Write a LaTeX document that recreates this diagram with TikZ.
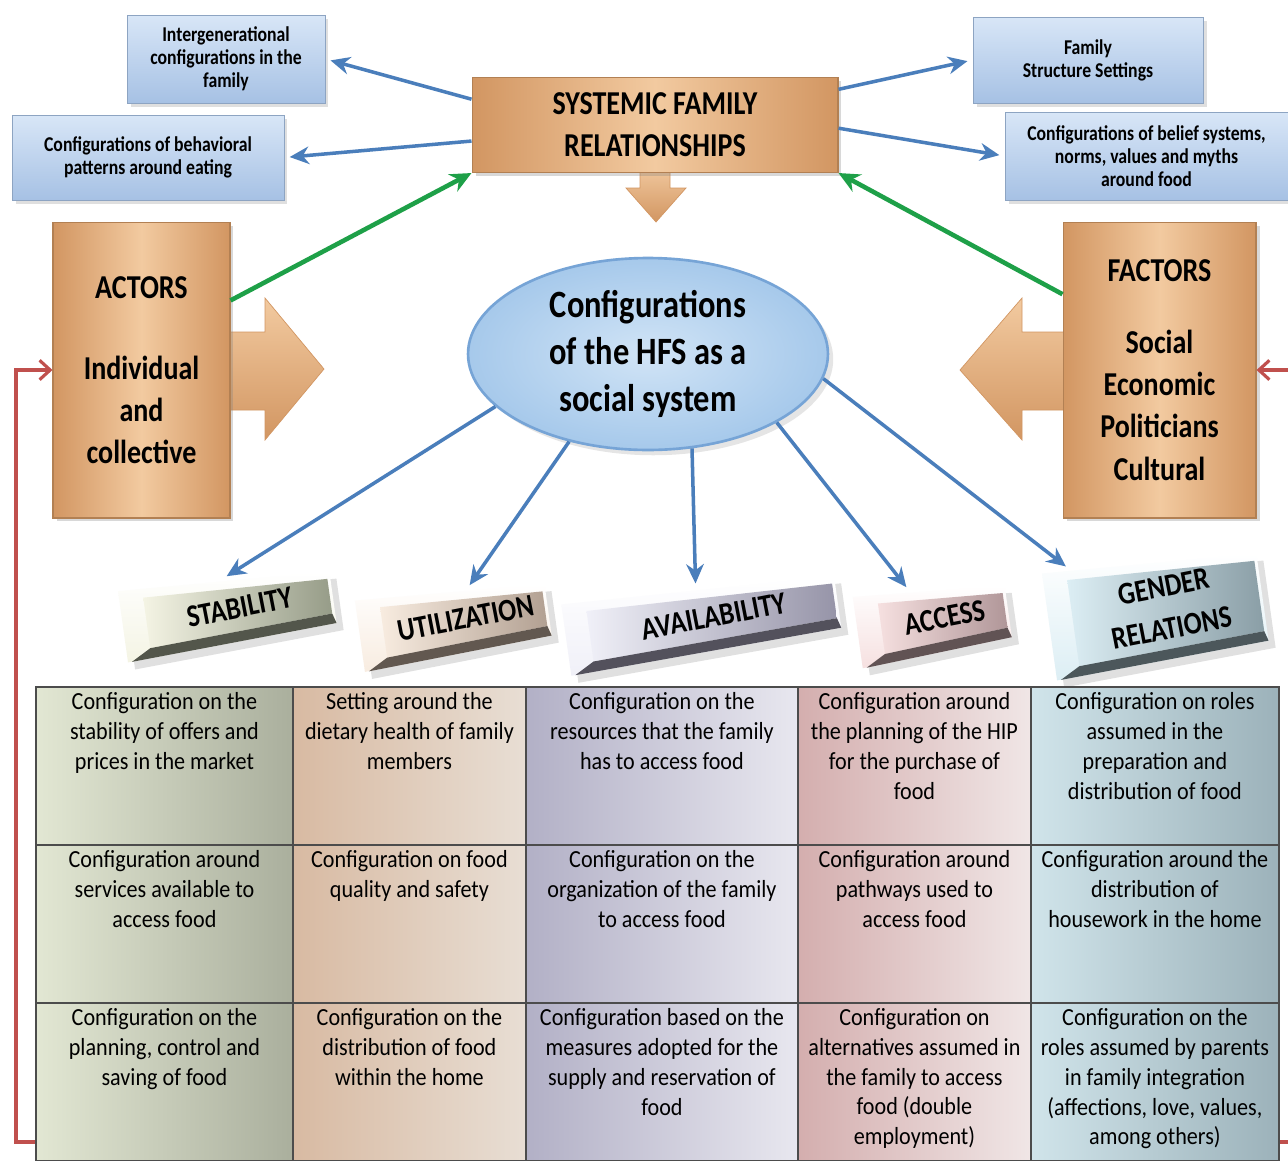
\documentclass[tikz,border=0pt]{standalone}
\usepackage{fontspec}
\setmainfont{Carlito}[FakeStretch=0.84]
\newfontfamily\tablefont{Carlito}[FakeStretch=0.9]
\definecolor{tanlight}{RGB}{242, 202, 160}
\definecolor{tandark}{RGB}{210, 150, 98}
\definecolor{boxbluelight}{RGB}{216, 230, 247}
\definecolor{boxbluedark}{RGB}{166, 193, 228}
\definecolor{hfsblue}{RGB}{178, 210, 240}
\definecolor{hfsedge}{RGB}{118, 164, 214}
\definecolor{linkblue}{RGB}{74, 126, 187}
\definecolor{linkgreen}{RGB}{30, 160, 72}
\definecolor{loopred}{RGB}{192, 80, 77}
\definecolor{stabend}{RGB}{244, 244, 228}
\definecolor{stabface}{RGB}{150, 156, 136}
\definecolor{utilend}{RGB}{248, 236, 224}
\definecolor{utilface}{RGB}{178, 160, 146}
\definecolor{availend}{RGB}{240, 240, 248}
\definecolor{availface}{RGB}{150, 148, 168}
\definecolor{accessend}{RGB}{246, 224, 224}
\definecolor{accessface}{RGB}{176, 150, 152}
\definecolor{genderend}{RGB}{220, 238, 244}
\definecolor{genderface}{RGB}{138, 158, 166}
\definecolor{colAl}{RGB}{226, 231, 211}
\definecolor{colAr}{RGB}{170, 175, 157}
\definecolor{colBl}{RGB}{216, 186, 162}
\definecolor{colBr}{RGB}{232, 222, 212}
\definecolor{colCl}{RGB}{178, 176, 198}
\definecolor{colCr}{RGB}{232, 231, 239}
\definecolor{colDl}{RGB}{212, 174, 174}
\definecolor{colDr}{RGB}{240, 230, 230}
\definecolor{colEl}{RGB}{208, 228, 234}
\definecolor{colEr}{RGB}{156, 178, 186}
\usetikzlibrary{arrows.meta, positioning, shapes.geometric, shadows}

\tikzset{
    famblock/.style={draw=tandark!85!black, line width=0.6pt,
        left color=tandark, right color=tandark, middle color=tanlight,
        font=\bfseries\fontsize{19}{24}\selectfont, align=center, inner sep=0pt,
        drop shadow={opacity=0.3, shadow xshift=2pt, shadow yshift=-2pt}},
    setbox/.style={draw=boxbluedark!85!black, line width=0.5pt,
        top color=boxbluelight, bottom color=boxbluedark,
        font=\bfseries\fontsize{12}{13}\selectfont, align=center, inner sep=0pt,
        drop shadow={opacity=0.25, shadow xshift=2pt, shadow yshift=-2pt}},
    hfsnode/.style={ellipse, draw=hfsedge, line width=1.5pt,
        inner color=hfsblue!60!white, outer color=hfsblue!80!hfsedge,
        minimum width=7.2cm, minimum height=3.84cm, inner sep=0pt,
        font=\bfseries\fontsize{22}{27}\selectfont, align=center,
        drop shadow={opacity=0.2, shadow xshift=3pt, shadow yshift=-3pt}},
    bartext/.style={font=\bfseries\fontsize{18}{24}\selectfont, align=center, inner sep=0pt},
    flowlink/.style={-{Stealth[length=11pt, width=10pt]}, linkblue, line width=2pt},
    growlink/.style={-{Stealth[length=12pt, width=11pt]}, linkgreen, line width=2.6pt},
    feedlink/.style={-{Straight Barb[length=6pt, width=11pt]}, loopred, line width=1.8pt},
    cell/.style={anchor=north west, draw=black!70, line width=1.1pt,
        minimum height=3.16cm, inner sep=0pt},
    celltext/.style={align=center, font=\tablefont\fontsize{14}{17}\selectfont, inner sep=0pt}
}

% 3D label bar: name, centre, width, height, end colour, face colour, arrow offset, text
\newcommand{\labelbar}[8]{%
    \begin{scope}[shift={#2}, rotate=8]
        \fill[black, opacity=0.12] (-#3/2+6,-#4/2+3) -- (#3/2+6,-#4/2+13) -- (#3/2+6,#4/2+3) -- (-#3/2+6,#4/2+13) -- cycle;
        \shade[top color=white, bottom color=#5] (-#3/2,-#4/2-5) -- (#3/2,-#4/2+5) -- (#3/2,#4/2-5) -- (-#3/2,#4/2+5) -- cycle;
        \shade[left color=#5, right color=#6] (-#3/2+24,-#4/2+5) -- (#3/2-3,-#4/2+12) -- (#3/2-3,#4/2-15) -- (-#3/2+24,#4/2-6) -- cycle;
        \fill[#6!55!black] (-#3/2+24,#4/2-6) -- (#3/2-3,#4/2-15) -- (#3/2,#4/2-5) -- (-#3/2+4,#4/2+5) -- cycle;
        \node[bartext, transform shape, rotate=3] (#1) at (12,-3) {#8};
        \coordinate (#1top) at (#7,{-#4/2-5+10*(#7+#3/2)/#3});
    \end{scope}}

\begin{document}
\begin{tikzpicture}[x=0.02cm, y=-0.02cm]
    \useasboundingbox (0,0) rectangle (1288,1160);
    \fill[white] (0,0) rectangle (1288,1160);

    % Block arrows behind the boxes
    \shade[top color=tanlight, bottom color=tandark, draw=tandark] (212,332) -- (265,332) -- (265,298) -- (324,369) -- (265,440) -- (265,410) -- (212,410) -- cycle;
    \shade[top color=tanlight, bottom color=tandark, draw=tandark] (1080,332) -- (1022,332) -- (1022,298) -- (960,370) -- (1022,440) -- (1022,410) -- (1080,410) -- cycle;
    \shade[top color=tanlight, bottom color=tandark, draw=tandark] (640,165) -- (670,165) -- (670,188) -- (686,188) -- (656,222) -- (626,188) -- (640,188) -- cycle;

    % Central boxes
    \node[famblock, minimum width=7.32cm, minimum height=1.9cm] (sfr) at (655,125) {SYSTEMIC FAMILY\\RELATIONSHIPS};
    \node[famblock, minimum width=3.54cm, minimum height=5.92cm] (actors) at (141.5,370) {ACTORS\\[22pt]Individual\\and\\collective};
    \node[famblock, minimum width=3.86cm, minimum height=5.92cm] (factors) at (1159.5,370) {FACTORS\\[17pt]Social\\Economic\\Politicians\\Cultural};
    \node[hfsnode] (hfs) at (648,354) {Configurations\\of the HFS as a\\social system};

    % Family settings
    \node[setbox, minimum width=3.96cm, minimum height=1.76cm] (intergen) at (226,59) {Intergenerational\\configurations in the\\family};
    \node[setbox, minimum width=5.44cm, minimum height=1.7cm] (eating) at (148,157.5) {Configurations of behavioral\\patterns around eating};
    \node[setbox, minimum width=4.6cm, minimum height=1.72cm] (structure) at (1088,60) {Family\\Structure Settings};
    \node[setbox, minimum width=5.66cm, minimum height=1.76cm] (belief) at (1146.5,156) {Configurations of belief systems,\\norms, values and myths\\around food};

    % Dimension bars
    \labelbar{stab}{(228,612)}{212}{62}{stabend}{stabface}{-6}{STABILITY}
    \labelbar{util}{(454,623)}{190}{62}{utilend}{utilface}{16}{UTILIZATION}
    \labelbar{avail}{(702,621)}{274}{62}{availend}{availface}{-2}{AVAILABILITY}
    \labelbar{access}{(933,622)}{152}{62}{accessend}{accessface}{-18}{ACCESS}
    \labelbar{gender}{(1156,612)}{215}{98}{genderend}{genderface}{-78}{GENDER\\RELATIONS}

    % Links from the relationships box
    \draw[flowlink, shorten >=3pt] (sfr.172) -- (intergen.east);
    \draw[flowlink, shorten >=3pt] (sfr.185) -- (eating.east);
    \draw[flowlink, shorten >=3pt] (sfr.11) -- (structure.west);
    \draw[flowlink, shorten >=3pt] (sfr.359) -- (belief.west);
    \draw[growlink] (actors.38) -- (sfr.south west);
    \draw[growlink] (factors.142) -- (sfr.south east);

    % Links to the dimensions
    \draw[flowlink, shorten >=6pt] (hfs.199) -- (stabtop);
    \draw[flowlink, shorten >=4pt] (hfs.228) -- (utiltop);
    \draw[flowlink, shorten >=4pt] (hfs.295) -- (availtop);
    \draw[flowlink, shorten >=4pt] (hfs.332) -- (accesstop);
    \draw[flowlink, shorten >=4pt] (hfs.352) -- (gendertop);

    % Table grid
    \foreach \col/\xx/\w/\cl/\cr in {1/35/5.14/colAl/colAr, 2/292/4.66/colBl/colBr, 3/525/5.44/colCl/colCr, 4/797/4.66/colDl/colDr, 5/1030/4.96/colEl/colEr}
        \foreach \row/\yy in {1/686, 2/844, 3/1002}
            \node[cell, minimum width=\w cm, left color=\cl, right color=\cr] (c\row\col) at (\xx,\yy) {};

    % Table texts
    \node[celltext, below=0.12cm of c11.north] {Configuration on the\\stability of offers and\\prices in the market};
    \node[celltext, below=0.12cm of c12.north] {Setting around the\\dietary health of family\\members};
    \node[celltext, below=0.12cm of c13.north] {Configuration on the\\resources that the family\\has to access food};
    \node[celltext, below=0.12cm of c14.north] {Configuration around\\the planning of the HIP\\for the purchase of\\food};
    \node[celltext, below=0.12cm of c15.north] {Configuration on roles\\assumed in the\\preparation and\\distribution of food};
    \node[celltext, below=0.12cm of c21.north] {Configuration around\\services available to\\access food};
    \node[celltext, below=0.12cm of c22.north] {Configuration on food\\quality and safety};
    \node[celltext, below=0.12cm of c23.north] {Configuration on the\\organization of the family\\to access food};
    \node[celltext, below=0.12cm of c24.north] {Configuration around\\pathways used to\\access food};
    \node[celltext, below=0.12cm of c25.north] {Configuration around the\\distribution of\\housework in the home};
    \node[celltext, below=0.12cm of c31.north] {Configuration on the\\planning, control and\\saving of food};
    \node[celltext, below=0.12cm of c32.north] {Configuration on the\\distribution of food\\within the home};
    \node[celltext, below=0.12cm of c33.north] {Configuration based on the\\measures adopted for the\\supply and reservation of\\food};
    \node[celltext, below=0.12cm of c34.north] {Configuration on\\alternatives assumed in\\the family to access\\food (double\\employment)};
    \node[celltext, below=0.12cm of c35.north] {Configuration on the\\roles assumed by parents\\in family integration\\(affections, love, values,\\among others)};

    % Feedback loop
    \coordinate (loopL) at (35,1142);
    \coordinate (loopR) at (1290,370);
    \draw[feedlink] (loopL) -- ++(-19,0) |- (actors.west);
    \draw[feedlink] (loopR) -- (factors.east);
    \draw[loopred, line width=1.8pt] (c35.east |- loopL) -- ++(12,0);
\end{tikzpicture}
\end{document}
